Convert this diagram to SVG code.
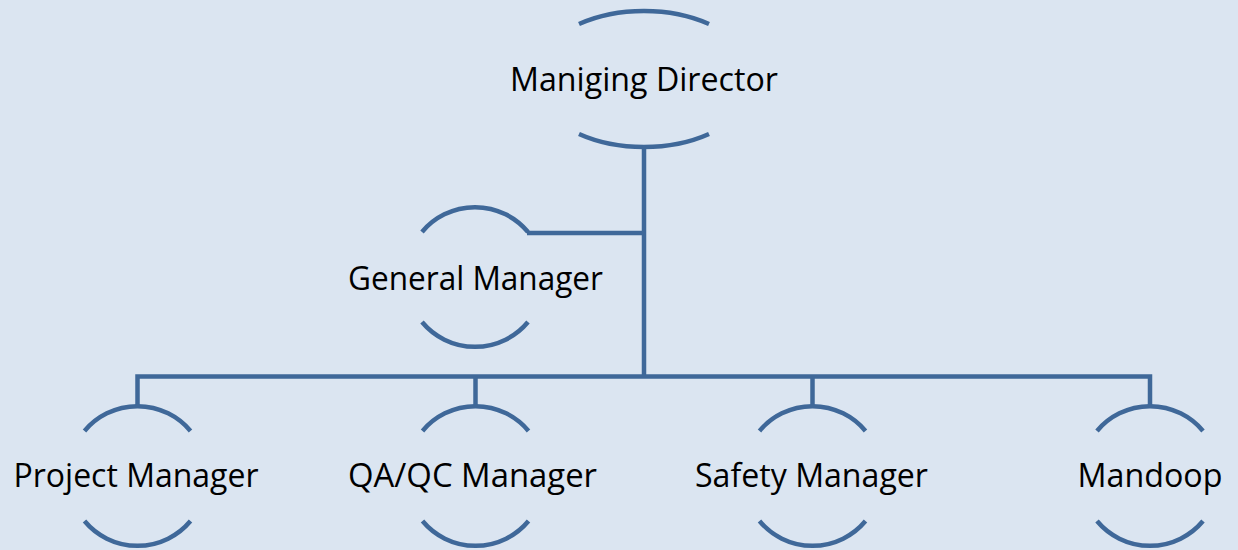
<svg xmlns="http://www.w3.org/2000/svg" width="1238" height="550" viewBox="0 0 1238 550">
<style>
.arc{fill:none;stroke:#3F6899;stroke-width:4.5;}
.con{fill:none;stroke:#3F6899;stroke-width:4.5;stroke-linejoin:miter;}
.lbl{font-family:"Open Sans","Liberation Sans",sans-serif;font-size:32.5px;fill:#000;text-anchor:middle;}
</style>
<rect width="1238" height="550" fill="#DBE5F1"/>
<g id="connectors">
<path class="con" d="M644 146 V376.5"/>
<path class="con" d="M644 233 H527"/>
<path class="con" d="M137.5 405 V376.5 H1150 V405"/>
<path class="con" d="M475.5 376.5 V405"/>
<path class="con" d="M812.5 376.5 V405"/>
</g>
<g id="node-md">
<path class="arc" d="M579 24 A110.5 68 0 0 1 709 24"/>
<path class="arc" d="M579 134 A110.5 68 0 0 0 709 134"/>
<text class="lbl" x="644" y="91" textLength="268" lengthAdjust="spacingAndGlyphs">Maniging Director</text>
</g>
<g id="node-gm">
<path class="arc" d="M422 232 A69 69 0 0 1 528 232"/>
<path class="arc" d="M422 322 A69 69 0 0 0 528 322"/>
<text class="lbl" x="475.5" y="290" textLength="255" lengthAdjust="spacingAndGlyphs">General Manager</text>
</g>
<g id="node-pm">
<path class="arc" d="M84.5 431 A69 69 0 0 1 190.5 431"/>
<path class="arc" d="M84.5 521 A69 69 0 0 0 190.5 521"/>
<text class="lbl" x="136" y="487" textLength="245" lengthAdjust="spacingAndGlyphs">Project Manager</text>
</g>
<g id="node-qa">
<path class="arc" d="M422.5 431 A69 69 0 0 1 528.5 431"/>
<path class="arc" d="M422.5 521 A69 69 0 0 0 528.5 521"/>
<text class="lbl" x="472.5" y="487" textLength="249" lengthAdjust="spacingAndGlyphs">QA/QC Manager</text>
</g>
<g id="node-sm">
<path class="arc" d="M759.5 431 A69 69 0 0 1 865.5 431"/>
<path class="arc" d="M759.5 521 A69 69 0 0 0 865.5 521"/>
<text class="lbl" x="811.5" y="487" textLength="233" lengthAdjust="spacingAndGlyphs">Safety Manager</text>
</g>
<g id="node-mandoop">
<path class="arc" d="M1097 431 A69 69 0 0 1 1203 431"/>
<path class="arc" d="M1097 521 A69 69 0 0 0 1203 521"/>
<text class="lbl" x="1150" y="487" textLength="145" lengthAdjust="spacingAndGlyphs">Mandoop</text>
</g>
</svg>
